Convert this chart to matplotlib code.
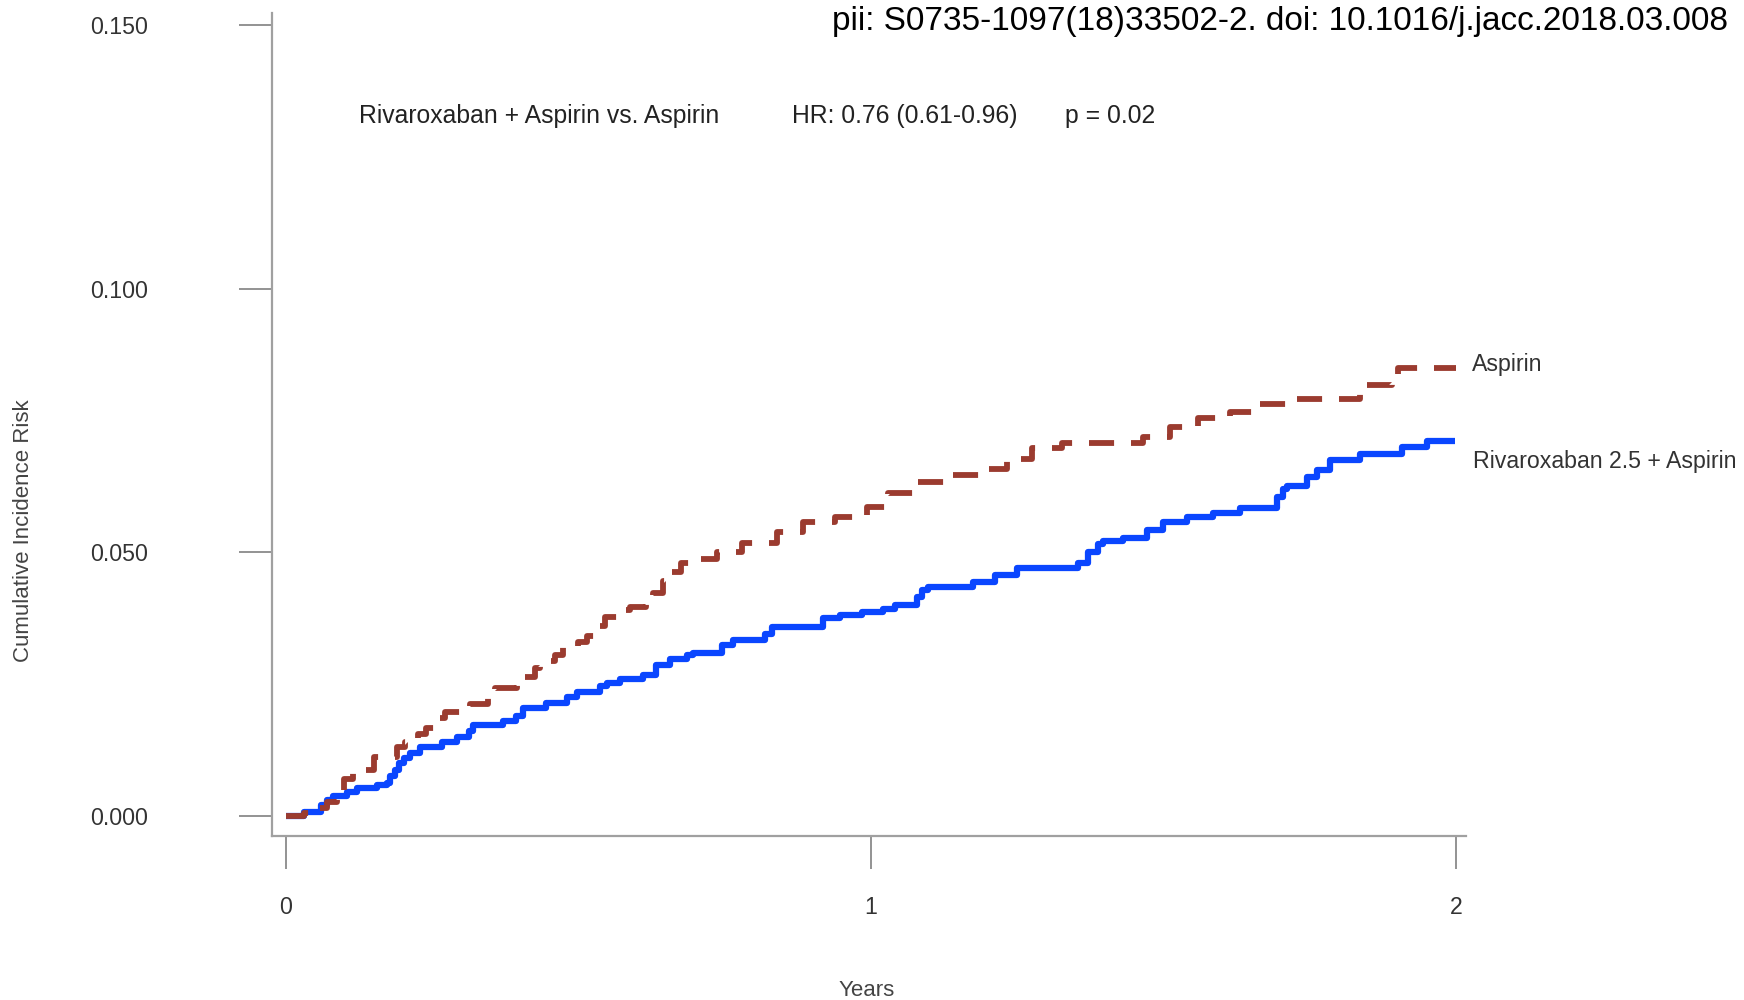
import matplotlib
matplotlib.use("Agg")
import matplotlib.pyplot as plt
from matplotlib import font_manager

# step curves (years, cumulative incidence)
riva_t = [0, 0.030, 0.060, 0.070, 0.081, 0.104, 0.121, 0.155, 0.172, 0.178, 0.186, 0.194, 0.202, 0.212,
          0.229, 0.266, 0.292, 0.312, 0.319, 0.371, 0.394, 0.405, 0.445, 0.480, 0.497, 0.537, 0.548,
          0.571, 0.611, 0.633, 0.656, 0.685, 0.696, 0.745, 0.764, 0.819, 0.831, 0.918, 0.947, 0.985,
          1.021, 1.041, 1.079, 1.087, 1.097, 1.174, 1.212, 1.250, 1.354, 1.371, 1.388, 1.397, 1.431,
          1.472, 1.499, 1.540, 1.585, 1.631, 1.694, 1.704, 1.711, 1.745, 1.762, 1.785, 1.836, 1.908,
          1.950, 1.998]
riva_y = [0, 0.0007, 0.0020, 0.0030, 0.0037, 0.0046, 0.0053, 0.0058, 0.0063, 0.0075, 0.0088, 0.0100,
          0.0110, 0.0120, 0.0130, 0.0140, 0.0150, 0.0162, 0.0172, 0.0180, 0.0190, 0.0205, 0.0214,
          0.0226, 0.0236, 0.0246, 0.0252, 0.0260, 0.0267, 0.0286, 0.0298, 0.0305, 0.0310, 0.0324,
          0.0334, 0.0345, 0.0359, 0.0376, 0.0381, 0.0386, 0.0393, 0.0401, 0.0415, 0.0428, 0.0435,
          0.0444, 0.0457, 0.0470, 0.0480, 0.0500, 0.0515, 0.0521, 0.0528, 0.0542, 0.0558, 0.0567,
          0.0575, 0.0585, 0.0605, 0.0620, 0.0626, 0.0643, 0.0656, 0.0675, 0.0686, 0.0700, 0.0712,
          0.0712]

asa_t = [0, 0.030, 0.052, 0.070, 0.087, 0.100, 0.115, 0.150, 0.190, 0.203, 0.225, 0.240, 0.262, 0.272,
         0.300, 0.315, 0.345, 0.357, 0.395, 0.406, 0.425, 0.434, 0.460, 0.474, 0.500, 0.514, 0.535,
         0.545, 0.575, 0.588, 0.615, 0.628, 0.645, 0.656, 0.675, 0.696, 0.737, 0.779, 0.839, 0.884,
         0.938, 0.993, 1.029, 1.075, 1.138, 1.186, 1.232, 1.275, 1.326, 1.465, 1.511, 1.559, 1.614,
         1.662, 1.716, 1.836, 1.891, 1.901, 2.0]
asa_y = [0, 0.0005, 0.0015, 0.0027, 0.0049, 0.0070, 0.0087, 0.0112, 0.0130, 0.0141, 0.0155, 0.0166,
         0.0185, 0.0198, 0.0205, 0.0212, 0.0230, 0.0242, 0.0255, 0.0264, 0.0280, 0.0293, 0.0305,
         0.0320, 0.0330, 0.0341, 0.0360, 0.0378, 0.0390, 0.0397, 0.0410, 0.0422, 0.0445, 0.0463,
         0.0480, 0.0487, 0.0501, 0.0517, 0.0539, 0.0558, 0.0567, 0.0586, 0.0612, 0.0634, 0.0647,
         0.0659, 0.0678, 0.0697, 0.0708, 0.0719, 0.0737, 0.0754, 0.0767, 0.0782, 0.0791, 0.0817,
         0.0835, 0.0849, 0.0849]

x_ticks = [0, 1, 2]
y_ticks = [0.0, 0.05, 0.10, 0.15]
y_ticklabels = ["0.000", "0.050", "0.100", "0.150"]

# narrow font for the Calibri-looking texts, if there is one
names = {f.name for f in font_manager.fontManager.ttflist}
if "Liberation Sans Narrow" in names:
    cal_font, cal_scale = "Liberation Sans Narrow", 1.0
else:
    cal_font, cal_scale = "Liberation Sans", 0.82

plt.rcParams["font.family"] = ["Liberation Sans", "DejaVu Sans"]

fig = plt.figure(figsize=(17.44, 10), dpi=100)
ax = fig.add_axes([272 / 1744, 0.164, 1194 / 1744, 0.823])

ax.step(riva_t, riva_y, where="post", color="#0a46ff", lw=4.5, solid_capstyle="butt")
ax.step(asa_t, asa_y, where="post", color="#9b3b2f", lw=4.2, linestyle=(0, (4.3, 2.9)))

ax.set_xlim(-0.0239, 2.0171)
ax.set_ylim(-0.0038, 0.1523)

for s in ["top", "right"]:
    ax.spines[s].set_visible(False)
for s in ["left", "bottom"]:
    ax.spines[s].set_color("#a0a0a0")
    ax.spines[s].set_linewidth(1.6)

ax.set_xticks(x_ticks)
ax.set_xticklabels([str(v) for v in x_ticks])
ax.set_yticks(y_ticks)
ax.set_yticklabels(y_ticklabels)
ax.tick_params(axis="both", direction="out", length=24, width=1.2, color="#808080",
               labelsize=16.7, labelcolor="#333333")
ax.tick_params(axis="y", pad=65)
ax.tick_params(axis="x", pad=19)

fig.text(24 / 1744, 1 - 531 / 1000, "Cumulative Incidence Risk", rotation=90,
         ha="center", va="center", fontsize=16, color="#444444")
fig.text(867 / 1744, 1 - 990 / 1000, "Years", ha="center", va="center",
         fontsize=16, color="#444444")

# curve labels at the right end
fig.text(1472 / 1744, 1 - 365 / 1000, "Aspirin", ha="left", va="center",
         fontsize=16.7, color="#333333")
fig.text(1473 / 1744, 1 - 461 / 1000, "Rivaroxaban 2.5 + Aspirin", ha="left", va="center",
         fontsize=16.7, color="#333333")

# annotation row
ann_size = 21.7 * cal_scale
fig.text(359 / 1744, 1 - 116 / 1000, "Rivaroxaban + Aspirin vs. Aspirin", ha="left", va="center",
         fontsize=ann_size, family=cal_font, color="#222222")
fig.text(792 / 1744, 1 - 116 / 1000, "HR: 0.76 (0.61-0.96)", ha="left", va="center",
         fontsize=ann_size, family=cal_font, color="#222222")
fig.text(1065 / 1744, 1 - 116 / 1000, "p = 0.02", ha="left", va="center",
         fontsize=ann_size, family=cal_font, color="#222222")

# citation line at the top edge
fig.text(832 / 1744, 1 - 30 / 1000, "pii: S0735-1097(18)33502-2. doi: 10.1016/j.jacc.2018.03.008",
         ha="left", va="baseline", fontsize=29.3 * cal_scale, family=cal_font, color="black")

fig.savefig("out.png", dpi=100)
